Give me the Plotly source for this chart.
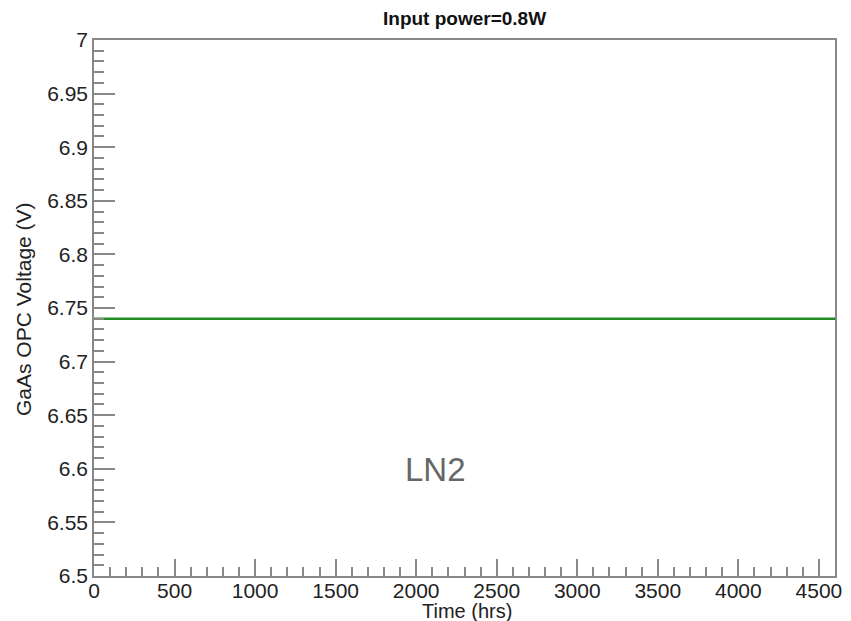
import plotly.graph_objects as go

# Data
time_hrs = [0, 4600]
voltage = [6.74, 6.74]
x_ticks = [0, 500, 1000, 1500, 2000, 2500, 3000, 3500, 4000, 4500]
y_ticks = [6.5, 6.55, 6.6, 6.65, 6.7, 6.75, 6.8, 6.85, 6.9, 6.95, 7.0]
y_tick_text = ["6.5", "6.55", "6.6", "6.65", "6.7", "6.75", "6.8", "6.85", "6.9", "6.95", "7"]
title_text = "Input power=0.8W"
label_text = "LN2"
label_pos = (2122, 6.599)

FONT = "Liberation Sans, Arial, Helvetica, sans-serif"

fig = go.Figure()
fig.add_trace(go.Scatter(x=time_hrs, y=voltage, mode="lines",
                         line=dict(color="#228B22", width=2.5),
                         showlegend=False, hoverinfo="skip"))

fig.add_annotation(x=label_pos[0], y=label_pos[1], text=label_text, showarrow=False,
                   font=dict(family=FONT, size=33, color="#666666"),
                   xanchor="center", yanchor="middle")

fig.add_annotation(xref="paper", yref="paper", x=0.5, y=1, yshift=22,
                   text="<b>" + title_text + "</b>", showarrow=False,
                   font=dict(family=FONT, size=19, color="#111111"),
                   xanchor="center", yanchor="middle")

fig.add_annotation(xref="paper", yref="paper", x=0.5, xshift=2, y=0, yshift=-35,
                   text="Time (hrs)", showarrow=False,
                   font=dict(family=FONT, size=20, color="#222222"),
                   xanchor="center", yanchor="middle")

fig.add_annotation(xref="paper", yref="paper", x=0, xshift=-71, y=0.5, yshift=-1,
                   text="GaAs OPC Voltage (V)", showarrow=False, textangle=-90,
                   font=dict(family=FONT, size=21, color="#222222"),
                   xanchor="center", yanchor="middle")

axis_common = dict(showgrid=False, zeroline=False, showline=True, linecolor="#888888",
                   linewidth=1.5, mirror=True, ticks="inside", tickcolor="#888888",
                   tickwidth=1.5, tickfont=dict(family=FONT, size=21, color="#222222"))

fig.update_xaxes(range=[0, 4600], tickvals=x_ticks, ticklen=17, ticklabelstandoff=-5,
                 minor=dict(dtick=100, tick0=0, ticklen=9, ticks="inside",
                            tickcolor="#888888", tickwidth=1.5),
                 **axis_common)
fig.update_yaxes(range=[6.5, 7.0], tickvals=y_ticks, ticktext=y_tick_text, ticklen=21,
                 minor=dict(dtick=0.01, tick0=6.5, ticklen=10, ticks="inside",
                            tickcolor="#888888", tickwidth=1.5),
                 **axis_common)

fig.update_layout(width=851, height=621, plot_bgcolor="white", paper_bgcolor="white",
                  margin=dict(l=94, r=9, t=40, b=45))

fig.write_html("out.html")
